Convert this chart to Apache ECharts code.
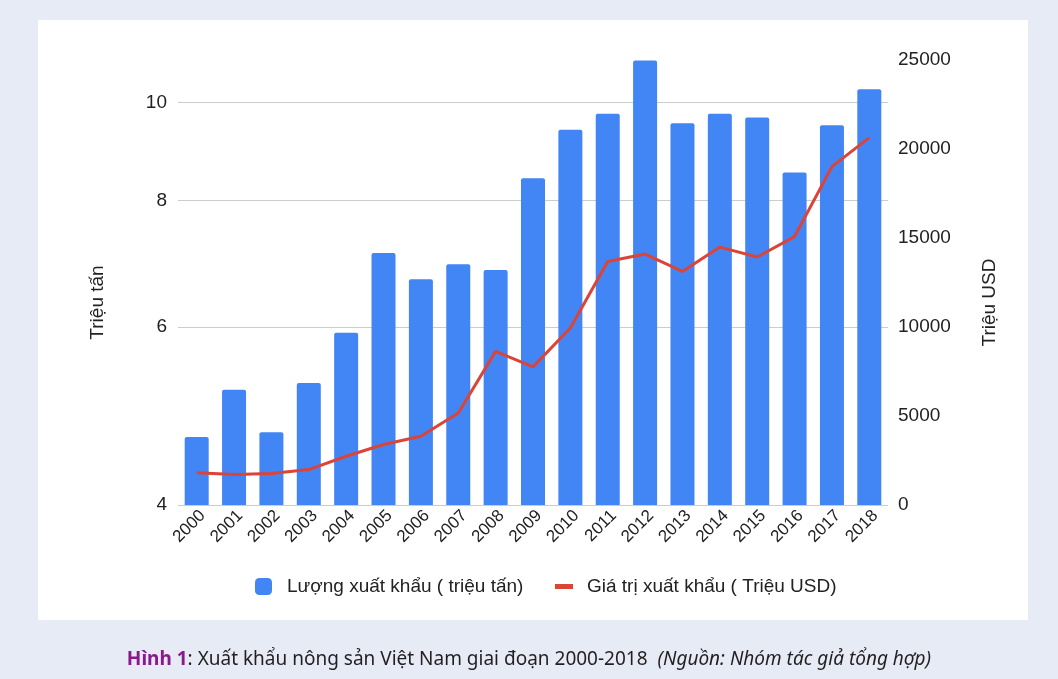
<!DOCTYPE html>
<html>
<head>
<meta charset="utf-8">
<title>Xuất khẩu nông sản Việt Nam 2000-2018</title>
<script src="https://cdn.jsdelivr.net/npm/echarts@6/dist/echarts.min.js"></script>
<style>
  html, body { margin: 0; padding: 0; background: #e7ebf6; }
  #chart { width: 1058px; height: 679px; }
</style>
</head>
<body>
<div id="chart"></div>
<script>
// số liệu
var years = ['2000','2001','2002','2003','2004','2005','2006','2007','2008','2009',
             '2010','2011','2012','2013','2014','2015','2016','2017','2018'];
// lượng xuất khẩu (triệu tấn)
var volume = [4.67, 5.20, 4.72, 5.28, 5.92, 7.10, 6.69, 6.92, 6.83, 8.42,
              9.40, 9.75, 11.01, 9.54, 9.75, 9.67, 8.53, 9.50, 10.31];
// giá trị xuất khẩu (triệu USD)
var value = [1810, 1710, 1770, 1990, 2740, 3400, 3860, 5170, 8630, 7760,
             9940, 13680, 14100, 13120, 14490, 13930, 15080, 19010, 20640];
// vạch chia trục trái (thang log)
var leftTicks = [4, 6, 8, 10];

var font = '"Liberation Sans", Arial, sans-serif';
var chart = echarts.init(document.getElementById('chart'));

var option = {
    backgroundColor: '#e7ebf6',
    textStyle: { fontFamily: font },
    graphic: [{
        type: 'rect',
        z: -10,
        shape: { x: 38, y: 20, width: 990, height: 600 },
        style: { fill: '#ffffff' }
    }],
    title: {
        left: 'center',
        top: 645,
        text: '{b|Hình 1}{n|: Xuất khẩu nông sản Việt Nam giai đoạn 2000-2018  }{i|(Nguồn: Nhóm tác giả tổng hợp)}',
        textStyle: {
            rich: {
                b: { fontFamily: '"Noto Sans"', fontSize: 19, fontWeight: 'bold', color: '#8a1a8c' },
                n: { fontFamily: '"Noto Sans"', fontSize: 19, fontWeight: 'normal', color: '#231f20' },
                i: { fontFamily: '"Noto Sans"', fontSize: 19, fontWeight: 'normal', fontStyle: 'italic', color: '#231f20' }
            }
        }
    },
    legend: [{
        left: 250,
        top: 572,
        itemWidth: 17,
        itemHeight: 17,
        icon: 'roundRect',
        textStyle: { fontSize: 19, color: '#222', fontFamily: font, padding: [0, 0, 0, 10] },
        data: ['Lượng xuất khẩu ( triệu tấn)']
    }, {
        left: 550,
        top: 572,
        itemWidth: 18,
        itemHeight: 5,
        icon: 'rect',
        textStyle: { fontSize: 19, color: '#222', fontFamily: font, padding: [0, 0, 0, 9] },
        data: ['Giá trị xuất khẩu ( Triệu USD)']
    }],
    grid: {
        left: 178,
        right: 170,
        top: 60,
        bottom: 174
    },
    xAxis: {
        type: 'category',
        data: years,
        axisLine: { show: false },
        axisTick: { show: false },
        axisLabel: {
            rotate: 45,
            margin: 2,
            verticalAlign: 'top',
            fontSize: 17,
            color: '#222',
            fontFamily: font
        }
    },
    yAxis: [{
        type: 'log',
        min: 4,
        max: 11.02,
        name: 'Triệu tấn',
        nameLocation: 'middle',
        nameRotate: 90,
        nameGap: 71,
        nameTextStyle: { fontSize: 19, color: '#222', padding: [0, 40, 0, 0] },
        axisLine: { show: false },
        axisTick: { show: false, customValues: leftTicks },
        axisLabel: {
            customValues: leftTicks,
            fontSize: 19,
            color: '#222',
            margin: 11
        },
        splitLine: { show: true, lineStyle: { color: '#cccccc', width: 1 } }
    }, {
        type: 'value',
        min: 0,
        max: 25000,
        interval: 5000,
        position: 'right',
        name: 'Triệu USD',
        nameLocation: 'middle',
        nameRotate: 90,
        nameGap: 92,
        nameTextStyle: { fontSize: 19, color: '#222', padding: [0, 40, 0, 0] },
        axisLine: { show: false },
        axisTick: { show: false },
        axisLabel: {
            fontSize: 19,
            color: '#222',
            margin: 10,
            formatter: function (v) { return String(v); }
        },
        splitLine: { show: false }
    }],
    series: [{
        name: 'Lượng xuất khẩu ( triệu tấn)',
        type: 'bar',
        yAxisIndex: 0,
        data: volume,
        barWidth: 24,
        itemStyle: { color: '#4285f4', borderRadius: [2, 2, 0, 0] }
    }, {
        name: 'Giá trị xuất khẩu ( Triệu USD)',
        type: 'line',
        yAxisIndex: 1,
        data: value,
        showSymbol: false,
        symbol: 'none',
        lineStyle: { color: '#db4437', width: 3 },
        itemStyle: { color: '#db4437' }
    }]
};

chart.setOption(option);
</script>
</body>
</html>
